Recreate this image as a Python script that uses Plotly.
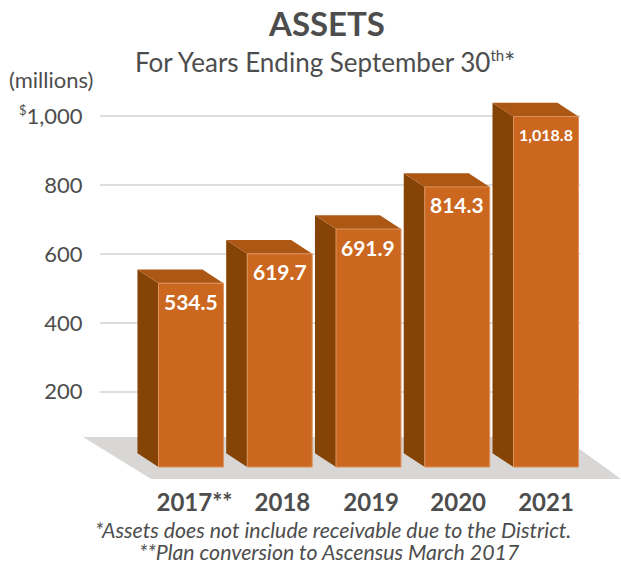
import plotly.graph_objects as go

years = ["2017**", "2018", "2019", "2020", "2021"]
assets = [534.5, 619.7, 691.9, 814.3, 1018.8]
value_labels = ["534.5", "619.7", "691.9", "814.3", "1,018.8"]
label_sizes = [21, 21, 21, 21, 16]
y_ticks = [200, 400, 600, 800, 1000]
y_tick_labels = ["200", "400", "600", "800",
                 "<sup><span style='font-size:13px'>$</span></sup>1,000"]
x_tick_nudge = [0.04, 0.03, 0.03, 0.01, 0.0]

FRONT = "#CB671F"
SIDE = "#854305"
TOP = "#AD5715"
TEXT = "#4D4D4D"
BASE = -19      # front of the bars stands a little below the back wall zero
BAR_W = 0.732
DEPTH_X = 0.237
DEPTH_Y = 40

# plot area in page pixels
PLOT_L, PLOT_R, PLOT_T, PLOT_B = 100, 580, 90, 470


def paper_x(px):
    return (px - PLOT_L) / (PLOT_R - PLOT_L)


def paper_y(py):
    return (PLOT_B - py) / (PLOT_B - PLOT_T)


fig = go.Figure()

xs = list(range(len(assets)))

# front faces
fig.add_trace(go.Bar(
    x=xs,
    y=assets,
    base=BASE,
    width=BAR_W,
    marker=dict(color=FRONT, line=dict(color="#DC9360", width=1)),
    hoverinfo="skip",
))

# floor, then side and top faces of the bars
shapes = [dict(
    type="path", xref="paper", yref="paper", layer="below",
    path=f"M {paper_x(83)} {paper_y(437)} L {paper_x(563)} {paper_y(437)} "
         f"L {paper_x(621)} {paper_y(479)} L {paper_x(151)} {paper_y(479)} Z",
    fillcolor="#D9D7D5", line=dict(width=0),
)]
for x, v in zip(xs, assets):
    left = x - BAR_W / 2
    right = x + BAR_W / 2
    top = v + BASE
    shapes.append(dict(
        type="path", layer="between", fillcolor=SIDE, line=dict(width=0),
        path=f"M {left} {BASE} L {left - DEPTH_X} {BASE + DEPTH_Y} "
             f"L {left - DEPTH_X} {top + DEPTH_Y} L {left} {top} Z",
    ))
    shapes.append(dict(
        type="path", layer="between", fillcolor=TOP, line=dict(width=0),
        path=f"M {left} {top} L {left - DEPTH_X} {top + DEPTH_Y} "
             f"L {right - DEPTH_X} {top + DEPTH_Y} L {right} {top} Z",
    ))

annotations = []
for x, v, t, s in zip(xs, assets, value_labels, label_sizes):
    annotations.append(dict(
        x=x, y=v + BASE, yshift=-18, text=t, showarrow=False,
        font=dict(family="Lato", size=s, color="white", weight="bold"),
    ))


def page_text(text, px, py, size, bold=False, italic=False):
    annotations.append(dict(
        xref="paper", yref="paper",
        x=paper_x(px), y=paper_y(py),
        xanchor="center", yanchor="middle",
        text=text, showarrow=False,
        font=dict(family="Lato", size=size, color=TEXT,
                  weight="bold" if bold else "normal",
                  style="italic" if italic else "normal"),
    ))


page_text("ASSETS", 326, 23, 33, bold=True)
page_text("For Years Ending September 30<sup><span style='font-size:15px'>th</span></sup>*",
          325, 62, 26)
page_text("(millions)", 51, 79, 22)
page_text("*Assets does not include receivable due to the District.", 333, 530, 21.3, italic=True)
page_text("**Plan conversion to Ascensus March 2017", 329, 551.5, 21.3, italic=True)

fig.update_layout(
    width=621,
    height=565,
    margin=dict(l=PLOT_L, r=621 - PLOT_R, t=PLOT_T, b=565 - PLOT_B),
    paper_bgcolor="white",
    plot_bgcolor="white",
    showlegend=False,
    shapes=shapes,
    annotations=annotations,
    xaxis=dict(
        range=[-1.025, 4.383],
        tickvals=[x + d for x, d in zip(xs, x_tick_nudge)],
        ticktext=years,
        ticks="outside", ticklen=11, tickcolor="rgba(0,0,0,0)",
        tickfont=dict(family="Lato", size=24, color=TEXT, weight="bold"),
        showgrid=False, zeroline=False, showline=False,
    ),
    yaxis=dict(
        range=[-27.6, 1077],
        tickvals=y_ticks,
        ticktext=y_tick_labels,
        ticks="outside", ticklen=12, tickcolor="rgba(0,0,0,0)",
        tickfont=dict(family="Lato", size=22, color=TEXT),
        gridcolor="#DEDEDE", gridwidth=1.5,
        zeroline=False, showline=False,
    ),
)

fig.write_html("out.html", config={"displayModeBar": False},
               post_script="document.body.style.margin='0';")
